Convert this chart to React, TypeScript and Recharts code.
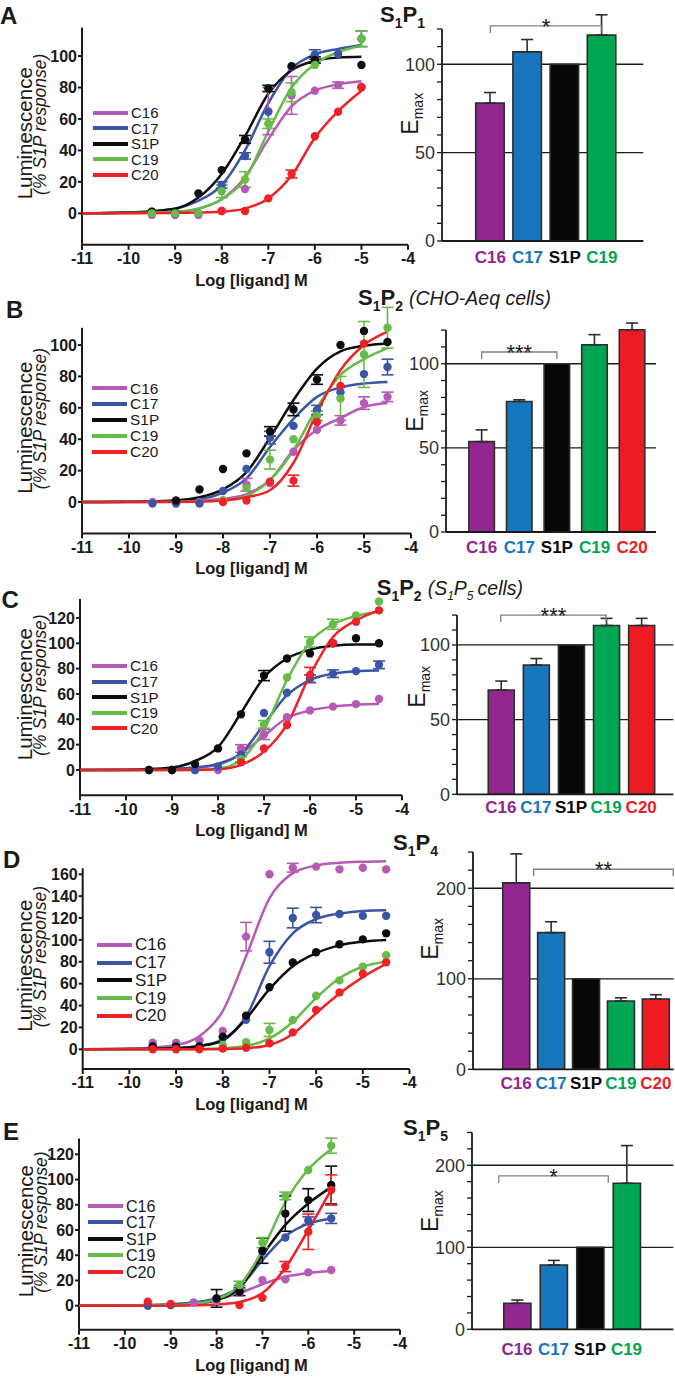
import React from "react";
import {
  Bar,
  BarChart,
  CartesianGrid,
  Cell,
  ComposedChart,
  ErrorBar,
  Legend,
  Line,
  ReferenceLine,
  Scatter,
  XAxis,
  YAxis,
} from "recharts";

const FONT = '"Liberation Sans", Arial, Helvetica, sans-serif';
const INK = "#1a1a1a";

const ligands = ["C16", "C17", "S1P", "C19", "C20"];
const curveColors = ["#b65ab6", "#3a55a6", "#0d0d0d", "#66bc47", "#ee2226"];
const barColors = ["#92278f", "#1876bd", "#070707", "#00a651", "#ed1c24"];

// x positions (log M) of the measured points and of the read-off fit curves
const doseX = [-9.5, -9, -8.5, -8, -7.5, -7, -6.5, -6, -5.5, -5, -4.5];
const fitX = [-11, -10, -9, -8.5, -8, -7.5, -7, -6.5, -6, -5.5, -5, -4.5];
const logTicks = [-11, -10, -9, -8, -7, -6, -5, -4];
const lumTicks100 = [0, 20, 40, 60, 80, 100];
const lumTicks120 = [0, 20, 40, 60, 80, 100, 120];
const lumTicks160 = [0, 20, 40, 60, 80, 100, 120, 140, 160];
const emaxTicks120 = [0, 10, 20, 30, 40, 50, 60, 70, 80, 90, 100, 110, 120];
const emaxTicks240 = [0, 20, 40, 60, 80, 100, 120, 140, 160, 180, 200, 220, 240];

type Num = number | null;

// ---- A: S1P1 (rows: C16, C17, S1P, C19, C20)
const aMean: Num[][] = [
  [-1, -1, -1, 1.5, 15.5, 65, 75, 78, 81.5, 80.5, null],
  [1, 0, 0, 18, 36.5, 64.5, 93, 101, 101.3, 111, null],
  [1, 0.5, 12.7, 27.5, 47, 79.4, 93.6, 97.5, null, 94.3, null],
  [0, 0, 0, 14, 21.5, 57, 77, 94.3, null, 111, null],
  [null, null, null, 1.5, 1.5, 9.5, 25, 49, 64.6, 80, null],
];
const aErr: Num[][] = [
  [null, null, null, null, null, 15, 12, null, 2, null, null],
  [null, null, null, 2, 2, null, null, 3, null, 5, null],
  [null, null, null, null, 2.5, 2, null, 2, null, null, null],
  [null, null, null, 4, 5, 3, 6, null, null, 5, null],
  [null, null, null, null, null, null, 2.5, null, null, null, null],
];
const aFit: number[][] = [
  [0, 0.3, 1, 3, 9, 23, 47, 68, 78, 82, 84],
  [0, 0.5, 3, 8, 18, 40, 70, 92, 101, 104.5, 107],
  [0, 0.5, 3, 10, 25, 49, 76, 91, 97, 99, 99.5],
  [0, 0.2, 1, 3, 9, 22, 52, 80, 95, 102.5, 106.5],
  [0, 0, 0.2, 0.5, 1, 3, 9.5, 24, 48, 65, 78],
];
const aEmax = [78, 107, 100, 116.5];
const aEmaxErr = [6, 7, 0, 11.5];

// ---- B: S1P2 (CHO-Aeq cells)
const bMean: Num[][] = [
  [0, 0, 0, 1, 11, 12, 32, 46, 52, 63, 67],
  [-1, -1, -1, 7, 21, 41, 48.5, 58.6, 70, 81.5, 86],
  [null, 1, 8, 21, 31, 45, 59, 78, 100, 109, 102],
  [null, null, null, 1, 9, 27, 40, 55, 66, 94, 111],
  [null, null, null, 0, 1, 13, 13.6, 51, 74, 101, null],
];
const bErr: Num[][] = [
  [null, null, null, null, 4, null, null, null, 3, 4, 3],
  [null, null, null, null, null, 4, null, 3, null, null, 5],
  [null, null, null, null, null, 3, 4, 3, null, null, null],
  [null, null, null, null, null, 6, null, 3, 14, 21, 13],
  [null, null, null, null, null, null, 3.5, null, null, null, null],
];
const bFit: number[][] = [
  [0, 0, 0.5, 1, 2, 5, 14, 33, 46, 53.5, 60.5, 63],
  [0, 0.2, 1, 2, 6, 15, 35, 53, 67, 73, 75.5, 76.5],
  [0, 0.2, 1, 3, 8, 19, 41, 65, 85, 96, 99.5, 101],
  [0, 0, 0.2, 0.5, 1, 4, 14, 33, 60, 81, 91, 98],
  [0, 0, 0, 0.3, 1, 3, 7.5, 25, 57, 84, 100, 108.5],
];
const bEmax = [53.7, 77.6, 100, 111.3, 120.2];
const bEmaxErr = [7, 1, 0, 6, 4];

// ---- C: S1P2 (S1P5 cells)
const cMean: Num[][] = [
  [0, 0, 0, 0, 17, 28, 41.6, 47, 50, 52, 56],
  [0, 0, 0, 2.6, 12, 45, 61, 72, 76, 78, 83],
  [0, 0, 4.7, 17, 44, 74.5, 88, 92, 100, 104, 100],
  [null, null, null, null, 8.4, 36, 73, 101, 115, 122, 133],
  [null, null, null, null, 6, 17, 35.5, 75, 100, 117, 126],
];
const cErr: Num[][] = [
  [null, null, null, null, 3, 4, null, null, null, null, null],
  [null, null, null, null, null, null, null, 3, 3, null, 3],
  [null, null, null, null, null, 4, null, null, null, null, null],
  [null, null, null, null, 2, 3, null, 4, 4, null, null],
  [null, null, null, null, null, null, null, 6, null, null, null],
];
const cFit: number[][] = [
  [0, 0, 0.5, 1.5, 4, 13, 27, 41, 47, 50, 51.5, 52],
  [0, 0, 1, 2, 5, 13, 36, 59, 71, 76, 78, 78.5],
  [0, 0.2, 2, 7, 18, 45, 73, 88, 95, 98, 99, 99],
  [0, 0, 0, 0.2, 1, 8, 32, 71, 101, 115, 121.5, 125],
  [0, 0, 0, 0, 0.5, 4, 14.5, 36, 75, 105, 118, 126],
];
const cEmax = [69.8, 86.6, 100, 113, 113];
const cEmaxErr = [6, 4.3, 0, 4.8, 4.8];

// ---- D: S1P4
const dMean: Num[][] = [
  [6, 6, 8, 16.8, 103, 160, 166, 167, 164.5, 166, 164.5],
  [3, 3, 3, 10, 27, 88.7, 120, 122.7, 123.7, 122, 122],
  [2.4, 2.4, 2.4, 11.6, 30.8, 56.7, 79.3, 88.7, 96, 100.5, 106],
  [null, null, null, 4, 6.4, 17.7, 26.8, 49, 63, 75.5, 86],
  [0, 0, 0, 0.6, 1.5, 5.5, 15.5, 36, 52, 69, 79.5],
];
const dErr: Num[][] = [
  [null, null, null, null, 13, null, 4, null, null, null, null],
  [null, null, null, null, null, 10, 9, 7, null, null, null],
  [null, null, null, null, null, null, null, null, null, null, null],
  [null, null, null, null, null, 6, null, null, null, null, null],
  [null, null, null, null, null, null, null, null, null, null, null],
];
const dFit: number[][] = [
  [0, 0.5, 4, 12, 35, 85, 138, 161, 168, 170.5, 171.5, 172],
  [0, 0.2, 1, 3, 9, 30, 76, 106, 119, 124, 126.5, 127],
  [0, 0.2, 1, 3, 8, 28, 55, 76, 88, 95, 98.5, 100],
  [0, 0, 0, 0.3, 1, 3, 10, 25, 47, 65, 75.5, 80],
  [0, 0, 0, 0, 0.3, 1, 4, 14, 33, 51, 66, 78],
];
const dEmax = [206, 151, 100, 75.5, 77.7];
const dEmaxErr = [32, 12, 0, 3.5, 4.7];

// ---- E: S1P5
const eMean: Num[][] = [
  [0.5, 0.5, 2.6, 3.7, 10.3, 20.3, 20.9, 26.4, 28.3, null, null],
  [0, 0.5, null, 5.8, 14, 42.8, 54, 67.4, 69.2, null, null],
  [null, null, null, 5.8, 11, 43.6, 73, 83.7, 95.6, null, null],
  [null, null, null, null, 16.4, 50, 87, 107.5, 126.8, null, null],
  [3.2, 1.3, null, null, 0.5, 6.3, 31, 58.6, 91.7, null, null],
];
const eErr: Num[][] = [
  [null, null, null, null, null, null, null, null, null, null, null],
  [null, null, null, null, 2, null, null, 3, 4, null, null],
  [null, null, null, 7, 3, 10, 14, 9, 15, null, null],
  [null, null, null, null, 3, 4, 3, null, 6, null, null],
  [null, null, null, null, null, null, 4, 14, 12, null, null],
];
const eFit: number[][] = [
  [0, 0.2, 1, 2.5, 5, 10, 17, 23, 26, 27.5],
  [0, 0.2, 1, 2.5, 6, 15, 36, 55, 65, 69],
  [0, 0.1, 0.5, 1.5, 4.5, 14, 40, 64, 81, 94],
  [0, 0.1, 0.5, 1.5, 5, 16, 44, 82, 108, 124],
  [0, 0, 0, 0.3, 1, 3, 10, 30, 60, 92],
];
const eEmax = [31.7, 78.4, 100, 178];
const eEmaxErr = [4, 5.6, 0, 46];

function seriesPoints(means: Num[], errs: Num[]) {
  const pts: { x: number; y: number; err?: number }[] = [];
  doseX.forEach((x, j) => {
    const y = means[j];
    if (y === null || y === undefined) return;
    const e = errs[j];
    pts.push(e ? { x, y, err: e } : { x, y });
  });
  return pts;
}

function fitPoints(ys: number[]) {
  return ys.map((y, j) => ({ x: fitX[j], y }));
}

type DoseLayout = {
  left: number;
  right: number;
  plotTop: number;
  plotBottom: number;
  yMin: number;
  yTop: number;
  axisTop: number;
  yTicks: number[];
  legendLeft: number;
  legendTop: number;
  legendGap: number;
};

function DoseChart({ lay, means, errs, fits }: { lay: DoseLayout; means: Num[][]; errs: Num[][]; fits: number[][] }) {
  const mTop = 20;
  const mRight = 15;
  const xH = 50;
  const width = lay.right + mRight;
  const height = mTop + (lay.plotBottom - lay.plotTop) + xH;
  const top = lay.plotTop - mTop;
  const legendFont = Math.min(17, lay.legendGap - 0.4);

  const yLabel = (props: any) => {
    const vb = props.viewBox;
    const per = vb.height / (lay.yTop - lay.yMin);
    const yAx = vb.y + (lay.yTop - lay.axisTop) * per;
    const cy = (yAx + vb.y + vb.height) / 2 - 3;
    return (
      <g>
        <text x={32.5} y={cy} transform={`rotate(-90 32.5 ${cy})`} textAnchor="middle" fontSize={20.5} fill={INK} fontFamily={FONT}>
          Luminescence
        </text>
        <text x={46.5} y={cy - 9} transform={`rotate(-90 46.5 ${cy - 9})`} textAnchor="middle" fontSize={17.5} fontStyle="italic" fill={INK} fontFamily={FONT}>
          (% S1P response)
        </text>
      </g>
    );
  };

  const xLabel = (props: any) => {
    const vb = props.viewBox;
    return (
      <text x={251.5} y={vb.y + 41} textAnchor="middle" fontSize={16.5} fontWeight={700} fill={INK} fontFamily={FONT}>
        Log [ligand] M
      </text>
    );
  };

  const legend = () => (
    <div style={{ fontFamily: FONT, fontSize: legendFont, color: INK }}>
      {ligands.map((n, i) => (
        <div key={n} style={{ display: "flex", alignItems: "center", height: lay.legendGap }}>
          <svg width={35} height={6} style={{ display: "block" }}>
            <line x1={0} y1={3} x2={35} y2={3} stroke={curveColors[i]} strokeWidth={4} />
          </svg>
          <span style={{ marginLeft: 3, lineHeight: 1 }}>{n}</span>
        </div>
      ))}
    </div>
  );

  return (
    <div style={{ position: "absolute", left: 0, top }}>
      <ComposedChart width={width} height={height} margin={{ top: mTop, right: mRight, left: 0, bottom: 0 }}>
        <XAxis
          type="number"
          dataKey="x"
          domain={[-11, -4]}
          allowDataOverflow
          ticks={logTicks}
          interval={0}
          height={xH}
          tick={{ fontSize: 16, fontWeight: 700, fill: INK, fontFamily: FONT }}
          tickSize={5}
          tickMargin={3}
          axisLine={{ stroke: INK, strokeWidth: 2 }}
          tickLine={{ stroke: INK, strokeWidth: 2 }}
          label={{ content: xLabel }}
        />
        <YAxis
          type="number"
          domain={[lay.yMin, lay.yTop]}
          allowDataOverflow
          ticks={lay.yTicks}
          interval={0}
          width={lay.left}
          axisLine={false}
          tickSize={4}
          tickMargin={1}
          tickLine={{ stroke: INK, strokeWidth: 2 }}
          tick={{ fontSize: 16, fontWeight: 700, fill: INK, fontFamily: FONT }}
          label={{ content: yLabel }}
        />
        <ReferenceLine
          segment={[
            { x: -11, y: lay.yMin },
            { x: -11, y: lay.axisTop },
          ]}
          stroke={INK}
          strokeWidth={2}
          ifOverflow="visible"
        />
        {ligands.map((name, i) => (
          <Line
            key={`fit-${name}`}
            data={fitPoints(fits[i])}
            dataKey="y"
            type="monotone"
            stroke={curveColors[i]}
            strokeWidth={2.5}
            dot={false}
            activeDot={false}
            isAnimationActive={false}
          />
        ))}
        {ligands.map((name, i) => (
          <Scatter
            key={`pts-${name}`}
            data={seriesPoints(means[i], errs[i])}
            dataKey="y"
            fill={curveColors[i]}
            shape={(p: any) => <circle cx={p.cx} cy={p.cy} r={4.2} fill={curveColors[i]} />}
            isAnimationActive={false}
          >
            <ErrorBar dataKey="err" direction="y" width={6} stroke={curveColors[i]} strokeWidth={1.6} />
          </Scatter>
        ))}
        <Legend
          layout="vertical"
          align="center"
          verticalAlign="middle"
          content={legend}
          wrapperStyle={{ left: lay.legendLeft, top: lay.legendTop - top, width: 80 }}
        />
      </ComposedChart>
    </div>
  );
}

type EmaxLayout = {
  left: number;
  right: number;
  plotTop: number;
  zeroY: number;
  yTop: number;
  axisTop: number;
  ticks: number[];
  labelStep: number;
  grid: number[];
  padL: number;
  padR: number;
  barSize: number;
  labelDy: number;
  emaxDx: number;
};

type Bracket = { from: string; to: string; level: number; stars: string; pos: "start" | "middle" | "end" };

function EmaxChart({ lay, values, errs, bracket }: { lay: EmaxLayout; values: number[]; errs: number[]; bracket: Bracket }) {
  const yW = 60;
  const mTop = 5;
  const mRight = 2;
  const xH = 35;
  const rows = values.map((v, i) => ({
    name: ligands[i],
    v,
    e: errs[i] ? [0, errs[i]] : undefined,
  }));
  const width = yW + (lay.right - lay.left) + mRight;
  const height = mTop + (lay.zeroY - lay.plotTop) + xH;

  const catTick = (props: any) => {
    const { x, y, payload } = props;
    const i = ligands.indexOf(payload.value);
    return (
      <text x={x} y={y + lay.labelDy} textAnchor="middle" fontSize={17} fontWeight={700} fill={barColors[i]} fontFamily={FONT}>
        {payload.value}
      </text>
    );
  };

  const emaxLabel = (props: any) => {
    const vb = props.viewBox;
    const per = vb.height / lay.yTop;
    const cy = vb.y + (lay.yTop - 0.6 * lay.axisTop) * per;
    const x = vb.x + vb.width - lay.emaxDx;
    return (
      <text x={x} y={cy} transform={`rotate(-90 ${x} ${cy})`} textAnchor="middle" fill={INK} fontFamily={FONT}>
        <tspan fontSize={23}>E</tspan>
        <tspan fontSize={14} dy={5}>
          max
        </tspan>
      </text>
    );
  };

  const bracketShape = (props: any) => {
    const { x1, y1, x2, y2 } = props;
    return (
      <g>
        <path d={`M${x1},${y1 + 7}V${y1}H${x2}V${y2 + 7}`} fill="none" stroke="#808080" strokeWidth={1.3} />
        <text x={(x1 + x2) / 2} y={y1 + 8} textAnchor="middle" fontSize={22} fill={INK} fontFamily={FONT}>
          {bracket.stars}
        </text>
      </g>
    );
  };

  return (
    <div style={{ position: "absolute", left: lay.left - yW, top: lay.plotTop - mTop }}>
      <BarChart width={width} height={height} data={rows} margin={{ top: mTop, right: mRight, left: 0, bottom: 0 }}>
        <CartesianGrid vertical={false} horizontalValues={lay.grid} stroke={INK} strokeWidth={1.3} />
        <XAxis
          dataKey="name"
          type="category"
          padding={{ left: lay.padL, right: lay.padR }}
          height={xH}
          interval={0}
          tickLine={false}
          tickSize={0}
          tickMargin={0}
          axisLine={{ stroke: INK, strokeWidth: 1.8 }}
          tick={catTick}
        />
        <XAxis xAxisId="edge" type="number" domain={[0, 1]} allowDataOverflow hide />
        <YAxis
          type="number"
          domain={[0, lay.yTop]}
          allowDataOverflow
          ticks={lay.ticks}
          interval={0}
          width={yW}
          axisLine={false}
          tickSize={5}
          tickMargin={2}
          tickLine={{ stroke: INK, strokeWidth: 1.3 }}
          tickFormatter={(v: number) => (v % lay.labelStep === 0 ? String(v) : "")}
          tick={{ fontSize: 18, fill: "#333", fontFamily: FONT }}
          label={{ content: emaxLabel }}
        />
        <ReferenceLine
          xAxisId="edge"
          segment={[
            { x: 0, y: 0 },
            { x: 0, y: lay.axisTop },
          ]}
          stroke={INK}
          strokeWidth={1.8}
          ifOverflow="visible"
        />
        <Bar dataKey="v" barSize={lay.barSize} stroke="#2d2d2d" strokeWidth={1.6} isAnimationActive={false}>
          {rows.map((r) => (
            <Cell key={r.name} fill={barColors[ligands.indexOf(r.name)]} />
          ))}
          <ErrorBar dataKey="e" direction="y" width={6} stroke="#2d2d2d" strokeWidth={1.6} />
        </Bar>
        <ReferenceLine
          segment={[
            { x: bracket.from, y: bracket.level },
            { x: bracket.to, y: bracket.level },
          ]}
          position={bracket.pos}
          ifOverflow="visible"
          shape={bracketShape}
        />
      </BarChart>
    </div>
  );
}

function Receptor({ x, y, n, note }: { x: number; y: number; n: string; note?: React.ReactNode }) {
  return (
    <text x={x} y={y} fontSize={22} fontWeight={700} fill={INK} fontFamily={FONT}>
      S
      <tspan fontSize={14} dy={6}>
        1
      </tspan>
      <tspan fontSize={22} dy={-6}>
        P
      </tspan>
      <tspan fontSize={14} dy={6}>
        {n}
      </tspan>
      {note}
    </text>
  );
}

function Overlay() {
  const letters = [
    { t: "A", x: 0, y: 24 },
    { t: "B", x: 6, y: 318 },
    { t: "C", x: 1.5, y: 608 },
    { t: "D", x: 3, y: 868 },
    { t: "E", x: 3, y: 1140 },
  ];
  return (
    <svg width={675} height={1377} style={{ position: "absolute", left: 0, top: 0, pointerEvents: "none" }}>
      {letters.map((l) => (
        <text key={l.t} x={l.x} y={l.y} fontSize={24} fontWeight={700} fill={INK} fontFamily={FONT}>
          {l.t}
        </text>
      ))}
      <Receptor x={380} y={22} n="1" />
      <Receptor
        x={358}
        y={305}
        n="2"
        note={
          <tspan dx={6} dy={-6} fontSize={19.5} fontWeight={400} fontStyle="italic">
            (CHO-Aeq cells)
          </tspan>
        }
      />
      <Receptor
        x={376.7}
        y={595}
        n="2"
        note={
          <>
            <tspan dx={6} dy={-6} fontSize={19.5} fontWeight={400} fontStyle="italic">
              (S
            </tspan>
            <tspan dy={5} fontSize={12} fontWeight={400} fontStyle="italic">
              1
            </tspan>
            <tspan dy={-5} fontSize={19.5} fontWeight={400} fontStyle="italic">
              P
            </tspan>
            <tspan dy={5} fontSize={12} fontWeight={400} fontStyle="italic">
              5
            </tspan>
            <tspan dy={-5} dx={4} fontSize={19.5} fontWeight={400} fontStyle="italic">
              cells)
            </tspan>
          </>
        }
      />
      <Receptor x={393} y={850} n="4" />
      <Receptor x={403} y={1135} n="5" />
    </svg>
  );
}

export default function App() {
  return (
    <div style={{ position: "absolute", left: 0, top: 0, width: 675, height: 1377, background: "#fff", fontFamily: FONT, overflow: "hidden" }}>
      <DoseChart
        lay={{ left: 82, right: 408, plotTop: 15, plotBottom: 244.8, yMin: -20, yTop: 126.1, axisTop: 118, yTicks: lumTicks100, legendLeft: 93, legendTop: 105.3, legendGap: 15.4 }}
        means={aMean}
        errs={aErr}
        fits={aFit}
      />
      <EmaxChart
        lay={{ left: 441.7, right: 643, plotTop: 10, zeroY: 241, yTop: 130.7, axisTop: 120, ticks: emaxTicks120, labelStep: 50, grid: [50, 100], padL: 29.7, padR: 22.8, barSize: 28.5, labelDy: 22, emaxDx: 24 }}
        values={aEmax}
        errs={aEmaxErr}
        bracket={{ from: "C16", to: "C19", level: 121.7, stars: "*", pos: "middle" }}
      />

      <DoseChart
        lay={{ left: 82, right: 411, plotTop: 300, plotBottom: 533.4, yMin: -20, yTop: 128.7, axisTop: 111, yTicks: lumTicks100, legendLeft: 92, legendTop: 380.4, legendGap: 15.85 }}
        means={bMean}
        errs={bErr}
        fits={bFit}
      />
      <EmaxChart
        lay={{ left: 446, right: 656, plotTop: 318, zeroY: 532, yTop: 127.2, axisTop: 120, ticks: emaxTicks120, labelStep: 50, grid: [50, 100], padL: 16.9, padR: 5.1, barSize: 25.5, labelDy: 21, emaxDx: 23 }}
        values={bEmax}
        errs={bEmaxErr}
        bracket={{ from: "C16", to: "S1P", level: 107, stars: "***", pos: "middle" }}
      />

      <DoseChart
        lay={{ left: 80, right: 402, plotTop: 585, plotBottom: 795.3, yMin: -20, yTop: 146, axisTop: 135, yTicks: lumTicks120, legendLeft: 92, legendTop: 658.2, legendGap: 15.6 }}
        means={cMean}
        errs={cErr}
        fits={cFit}
      />
      <EmaxChart
        lay={{ left: 456.7, right: 673, plotTop: 600, zeroY: 794.3, yTop: 130.1, axisTop: 120, ticks: emaxTicks120, labelStep: 50, grid: [50, 100], padL: 26.25, padR: 14.55, barSize: 26, labelDy: 19, emaxDx: 32 }}
        values={cEmax}
        errs={cEmaxErr}
        bracket={{ from: "C16", to: "C19", level: 120, stars: "***", pos: "middle" }}
      />

      <DoseChart
        lay={{ left: 82.7, right: 409.5, plotTop: 855, plotBottom: 1069, yMin: -18, yTop: 177.6, axisTop: 165.5, yTicks: lumTicks160, legendLeft: 97, legendTop: 936.1, legendGap: 17.75 }}
        means={dMean}
        errs={dErr}
        fits={dFit}
      />
      <EmaxChart
        lay={{ left: 473.3, right: 674, plotTop: 845, zeroY: 1069.3, yTop: 247.8, axisTop: 240, ticks: emaxTicks240, labelStep: 100, grid: [100, 200], padL: 25.75, padR: 0.45, barSize: 27, labelDy: 20, emaxDx: 35 }}
        values={dEmax}
        errs={dEmaxErr}
        bracket={{ from: "C16", to: "C20", level: 221, stars: "**", pos: "end" }}
      />

      <DoseChart
        lay={{ left: 79, right: 400, plotTop: 1125, plotBottom: 1329.7, yMin: -19, yTop: 143.2, axisTop: 132.5, yTicks: lumTicks120, legendLeft: 88, legendTop: 1197.5, legendGap: 16.5 }}
        means={eMean}
        errs={eErr}
        fits={eFit}
      />
      <EmaxChart
        lay={{ left: 471.7, right: 673, plotTop: 1125, zeroY: 1329.3, yTop: 249.1, axisTop: 240, ticks: emaxTicks240, labelStep: 100, grid: [100, 200], padL: 26.75, padR: 28.55, barSize: 27.2, labelDy: 26, emaxDx: 34 }}
        values={eEmax}
        errs={eEmaxErr}
        bracket={{ from: "C16", to: "C19", level: 187, stars: "*", pos: "start" }}
      />

      <Overlay />
    </div>
  );
}
